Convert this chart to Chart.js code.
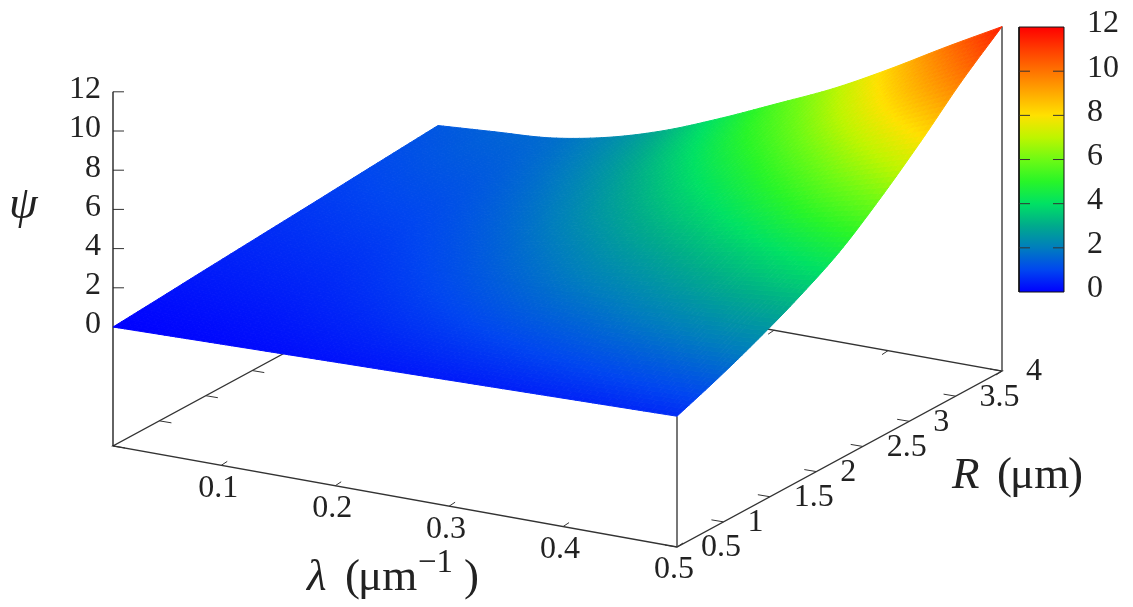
<!DOCTYPE html>
<html>
<head>
<meta charset="utf-8">
<title>psi surface</title>
<script src="https://cdn.jsdelivr.net/npm/chart.js@4/dist/chart.umd.js"></script>
<style>
  html, body { margin: 0; padding: 0; background: #fff; }
  canvas { display: block; }
</style>
</head>
<body>
<canvas id="surface" width="1133" height="607"></canvas>
<script>
// Grid (surface height and colour)
const lambdaValues = [0.005, 0.055, 0.104, 0.154, 0.203, 0.253, 0.302, 0.352, 0.401, 0.451, 0.5]
const radiusValues = [0.5, 0.94, 1.38, 1.81, 2.25, 2.69, 3.13, 3.56, 4]

const psiRow0 = [0, 0.06, 0.12, 0.18, 0.24, 0.3, 0.36, 0.42, 0.48, 0.54, 0.6]
const psiRow1 = [0.16, 0.23, 0.3, 0.41, 0.54, 0.69, 0.84, 0.99, 1.13, 1.27, 1.4]
const psiRow2 = [0.33, 0.41, 0.49, 0.64, 0.85, 1.1, 1.36, 1.59, 1.85, 2.09, 2.3]
const psiRow3 = [0.49, 0.58, 0.67, 0.88, 1.17, 1.53, 1.9, 2.24, 2.61, 3.0, 3.3]
const psiRow4 = [0.65, 0.76, 0.87, 1.13, 1.51, 1.99, 2.49, 2.98, 3.5, 4.04, 4.5]
const psiRow5 = [0.81, 0.94, 1.07, 1.4, 1.89, 2.53, 3.2, 3.87, 4.62, 5.41, 6.1]
const psiRow6 = [0.98, 1.13, 1.28, 1.68, 2.29, 3.1, 3.97, 4.85, 5.84, 6.92, 7.9]
const psiRow7 = [1.14, 1.32, 1.49, 1.97, 2.71, 3.7, 4.76, 5.86, 7.13, 8.51, 9.8]
const psiRow8 = [1.3, 1.5, 1.7, 2.25, 3.1, 4.25, 5.5, 6.8, 8.3, 9.95, 11.5]
const psiRows = [psiRow0, psiRow1, psiRow2, psiRow3, psiRow4, psiRow5, psiRow6, psiRow7, psiRow8]

const psiTicks = [0, 2, 4, 6, 8, 10, 12]
const lambdaTicks = [0.1, 0.2, 0.3, 0.4, 0.5]
const radiusTicks = [0.5, 1, 1.5, 2, 2.5, 3, 3.5, 4]

// Colour bar stops, one for each psi unit from 0 to 12
const paletteRed = [0, 0, 0, 0, 0, 40, 110, 190, 255, 255, 255, 255, 255]
const paletteGreen = [0, 70, 125, 170, 225, 245, 250, 245, 225, 170, 115, 60, 0]
const paletteBlue = [255, 240, 190, 140, 100, 40, 20, 0, 0, 0, 0, 0, 0]

const serif = '"Liberation Serif", serif'
const ink = '#222'

// gnuplot style 3d view, flattened onto the hidden x/y scales
function project(lambda, radius, psi) {
  const tx = (lambda - 0.005) / 0.495
  const ty = (radius - 0.5) / 3.5
  return {
    x: 113 + 564 * tx + 325 * ty,
    y: 446 + 101 * tx - 176 * ty - 119 - 19.6 * psi
  }
}

// Floor position, without the psi offset
function floorPoint(lambda, radius) {
  const p = project(lambda, radius, 0)
  return { x: p.x, y: p.y + 119 }
}

function barY(psi) {
  return 292 - 22.08 * psi
}

function colourAt(psi) {
  const v = Math.max(0, Math.min(12, psi))
  const i = Math.min(11, Math.floor(v))
  const t = v - i
  const mix = list => Math.round(list[i] + (list[i + 1] - list[i]) * t)
  return `rgb(${mix(paletteRed)},${mix(paletteGreen)},${mix(paletteBlue)})`
}

const gap = { x: NaN, y: NaN }
const lambdaMin = lambdaValues[0]
const lambdaMax = lambdaValues[lambdaValues.length - 1]
const radiusMin = radiusValues[0]
const radiusMax = radiusValues[radiusValues.length - 1]

const cornerA = floorPoint(lambdaMin, radiusMin)
const cornerB = floorPoint(lambdaMax, radiusMin)
const cornerC = floorPoint(lambdaMax, radiusMax)
const cornerD = floorPoint(lambdaMin, radiusMax)

const surfacePoints = []
radiusValues.forEach((radius, j) => {
  lambdaValues.forEach((lambda, i) => {
    surfacePoints.push(project(lambda, radius, psiRows[j][i]))
  })
})

const tickSegments = []
psiTicks.forEach(psi => {
  const y = project(lambdaMin, radiusMin, psi).y
  tickSegments.push({ x: cornerA.x, y }, { x: cornerA.x + 11, y }, gap)
})
lambdaTicks.forEach(lambda => {
  const front = floorPoint(lambda, radiusMin)
  const back = floorPoint(lambda, radiusMax)
  tickSegments.push(front, { x: front.x + 6, y: front.y - 4 }, gap)
  tickSegments.push(back, { x: back.x - 6, y: back.y + 4 }, gap)
})
radiusTicks.forEach(radius => {
  const left = floorPoint(lambdaMin, radius)
  const right = floorPoint(lambdaMax, radius)
  tickSegments.push(left, { x: left.x + 12, y: left.y + 2 }, gap)
  tickSegments.push(right, { x: right.x - 12, y: right.y - 2 }, gap)
})
psiTicks.slice(1, -1).forEach(psi => {
  tickSegments.push({ x: 1019, y: barY(psi) }, { x: 1030, y: barY(psi) }, gap)
  tickSegments.push({ x: 1053, y: barY(psi) }, { x: 1064, y: barY(psi) }, gap)
})

function lineSet(label, data, colour, width) {
  return {
    label, data, showLine: true, spanGaps: false,
    borderColor: colour, borderWidth: width,
    pointRadius: 0, pointHoverRadius: 0, fill: false
  }
}

// Catmull-Rom weights, so the mesh draws as a smooth sheet
function splineWeights(t) {
  return [
    0.5 * (-t + 2 * t * t - t * t * t),
    0.5 * (2 - 5 * t * t + 3 * t * t * t),
    0.5 * (t + 4 * t * t - 3 * t * t * t),
    0.5 * (-t * t + t * t * t)
  ]
}

// Grid lookup that extends straight past the edges
function gridValue(read, rows, cols, j, i) {
  if (j < 0) return 2 * gridValue(read, rows, cols, 0, i) - gridValue(read, rows, cols, 1, i)
  if (j >= rows) return 2 * gridValue(read, rows, cols, rows - 1, i) - gridValue(read, rows, cols, rows - 2, i)
  if (i < 0) return 2 * read(j, 0) - read(j, 1)
  if (i >= cols) return 2 * read(j, cols - 1) - read(j, cols - 2)
  return read(j, i)
}

function smoothValue(read, rows, cols, j, i, u, v) {
  const wu = splineWeights(u)
  const wv = splineWeights(v)
  let sum = 0
  for (let b = 0; b < 4; b++) {
    for (let a = 0; a < 4; a++) {
      sum += wv[b] * wu[a] * gridValue(read, rows, cols, j + b - 1, i + a - 1)
    }
  }
  return sum
}

const surfacePlugin = {
  id: 'surfacePlugin',
  beforeDatasetsDraw(chart) {
    // Colour bar body
    const { ctx, scales } = chart
    const top = scales.y.getPixelForValue(barY(12))
    const bottom = scales.y.getPixelForValue(barY(0))
    const gradient = ctx.createLinearGradient(0, bottom, 0, top)
    paletteRed.forEach((_, i) => gradient.addColorStop(i / 12, colourAt(i)))
    ctx.fillStyle = gradient
    ctx.fillRect(scales.x.getPixelForValue(1019), top, 45, bottom - top)
  },
  afterDatasetsDraw(chart) {
    const ctx = chart.ctx
    const nodes = chart.getDatasetMeta(0).data
    const cols = lambdaValues.length
    const rows = radiusValues.length
    const steps = 10
    const readX = (j, i) => nodes[j * cols + i].x
    const readY = (j, i) => nodes[j * cols + i].y
    const readPsi = (j, i) => psiRows[j][i]

    ctx.save()
    ctx.lineWidth = 1
    for (let j = 0; j < rows - 1; j++) {
      for (let i = 0; i < cols - 1; i++) {
        const at = (u, v) => ({
          x: smoothValue(readX, rows, cols, j, i, u, v),
          y: smoothValue(readY, rows, cols, j, i, u, v)
        })
        for (let b = 0; b < steps; b++) {
          for (let a = 0; a < steps; a++) {
            const u0 = a / steps, u1 = (a + 1) / steps
            const v0 = b / steps, v1 = (b + 1) / steps
            const c1 = at(u0, v0), c2 = at(u1, v0), c3 = at(u1, v1), c4 = at(u0, v1)
            const psi = smoothValue(readPsi, rows, cols, j, i, (u0 + u1) / 2, (v0 + v1) / 2)
            const colour = colourAt(psi)
            ctx.fillStyle = colour
            ctx.strokeStyle = colour
            ctx.beginPath()
            ctx.moveTo(c1.x, c1.y)
            ctx.lineTo(c2.x, c2.y)
            ctx.lineTo(c3.x, c3.y)
            ctx.lineTo(c4.x, c4.y)
            ctx.closePath()
            ctx.fill()
            ctx.stroke()
          }
        }
      }
    }
    ctx.restore()
  },
  afterDraw(chart) {
    const { ctx, scales } = chart
    const px = v => scales.x.getPixelForValue(v)
    const py = v => scales.y.getPixelForValue(v)
    const text = (str, x, y, font, align) => {
      ctx.font = font
      ctx.textAlign = align || 'left'
      ctx.fillText(str, px(x), py(y))
    }
    const tickFont = `32px ${serif}`

    ctx.save()
    ctx.fillStyle = ink
    ctx.textBaseline = 'middle'
    psiTicks.forEach(psi => {
      text(String(psi), 101, project(lambdaMin, radiusMin, psi).y - 2, tickFont, 'right')
      text(String(psi), 1087, barY(psi) - 3, tickFont)
    })
    lambdaTicks.forEach(lambda => {
      const p = floorPoint(lambda, radiusMin)
      text(lambda.toFixed(1), p.x - 3, p.y + 23, tickFont, 'center')
    })
    radiusTicks.forEach(radius => {
      const p = floorPoint(lambdaMax, radius)
      text(String(radius), p.x + 24, p.y + 1, tickFont)
    })

    ctx.textBaseline = 'alphabetic'
    text('ψ', 9, 218, `italic 46px ${serif}`)
    text('λ', 307, 590, `italic 45px ${serif}`)
    text('(', 345, 590, `45px ${serif}`)
    text('μm', 358, 590, `45px ${serif}`)
    text('−1', 418, 572, `33px ${serif}`)
    text(')', 464, 590, `45px ${serif}`)
    text('R', 952, 488, `italic 45px ${serif}`)
    text('(', 997, 488, `45px ${serif}`)
    text('μm', 1010, 488, `45px ${serif}`)
    text(')', 1068, 488, `45px ${serif}`)
    ctx.restore()
  }
}

new Chart(document.getElementById('surface').getContext('2d'), {
  type: 'scatter',
  data: {
    datasets: [
      lineSet('psi surface', surfacePoints, 'rgba(0,0,0,0)', 0),
      lineSet('z axis', [cornerA, { x: cornerA.x, y: project(lambdaMin, radiusMin, 12).y }], '#222', 1.4),
      lineSet('floor', [cornerD, cornerA, cornerB, cornerC, cornerD], '#333', 1.3),
      lineSet('verticals', [project(lambdaMax, radiusMin, 0.6), cornerB, gap, cornerC, project(lambdaMax, radiusMax, 11.5)], '#777', 2),
      lineSet('ticks', tickSegments, '#333', 1),
      lineSet('colour bar frame', [
        { x: 1019, y: barY(0) }, { x: 1064, y: barY(0) }, { x: 1064, y: barY(12) },
        { x: 1019, y: barY(12) }, { x: 1019, y: barY(0) }
      ], '#111', 1)
    ]
  },
  options: {
    responsive: false,
    animation: false,
    devicePixelRatio: 1,
    layout: { padding: 0 },
    plugins: { legend: { display: false }, tooltip: { enabled: false } },
    scales: {
      x: { type: 'linear', display: false, min: 0, max: 1133 },
      y: { type: 'linear', display: false, min: 0, max: 607, reverse: true }
    }
  },
  plugins: [surfacePlugin]
})
</script>
</body>
</html>
